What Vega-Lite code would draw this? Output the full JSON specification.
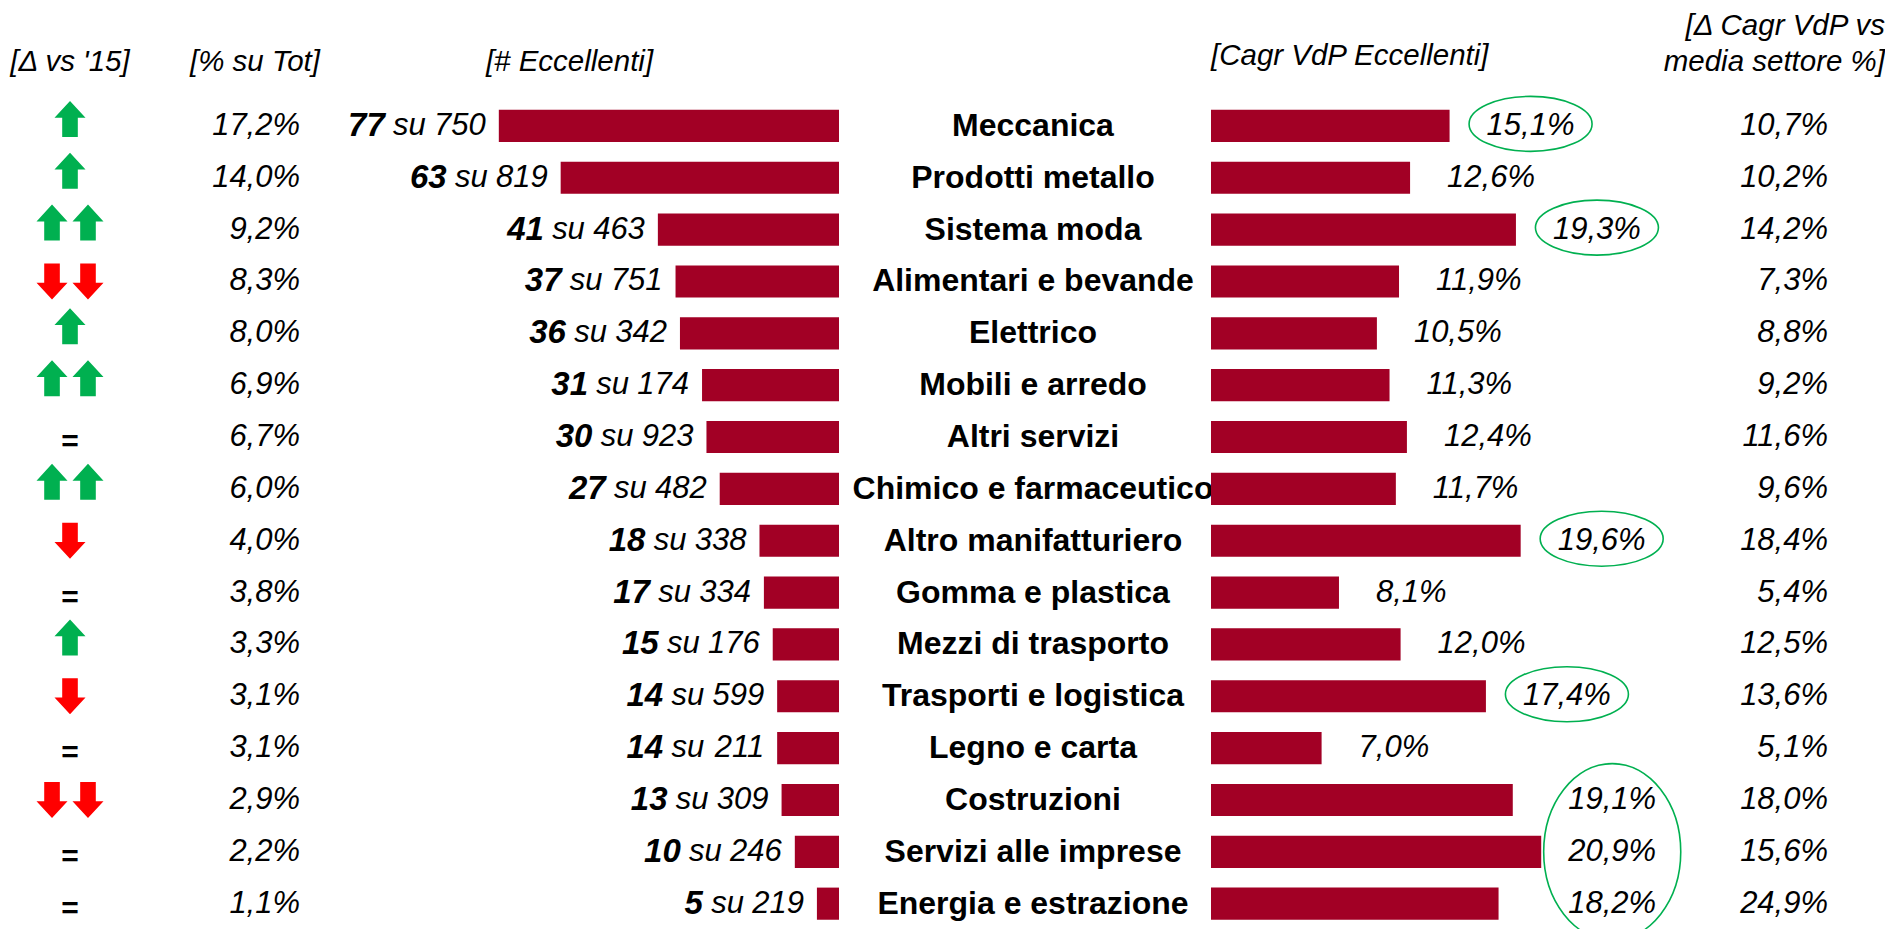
{
  "$schema": "https://vega.github.io/schema/vega-lite/v6.json",
  "padding": {"left": 0, "top": 11, "right": 0, "bottom": 0},
  "spacing": 0,
  "bounds": "flush",
  "background": "white",
  "config": {
    "view": {"stroke": null},
    "locale": {"number": {"decimal": ",", "thousands": ".", "grouping": [3], "currency": ["", "%"]}},
    "title": {"font": "Liberation Sans", "fontSize": 29.5, "fontStyle": "italic", "fontWeight": "normal", "color": "#000000", "baseline": "bottom", "offset": 22, "lineHeight": 36},
    "text": {"font": "Liberation Sans", "fontSize": 31, "color": "#000000"}
  },
  "data": {"values": [
    {"sector": "Meccanica", "trend": "up", "pct": 17.2, "n": 77, "tot": 750, "cagr": 15.1, "delta": 10.7, "hl": "circle"},
    {"sector": "Prodotti metallo", "trend": "up", "pct": 14.0, "n": 63, "tot": 819, "cagr": 12.6, "delta": 10.2, "hl": ""},
    {"sector": "Sistema moda", "trend": "up2", "pct": 9.2, "n": 41, "tot": 463, "cagr": 19.3, "delta": 14.2, "hl": "circle"},
    {"sector": "Alimentari e bevande", "trend": "down2", "pct": 8.3, "n": 37, "tot": 751, "cagr": 11.9, "delta": 7.3, "hl": ""},
    {"sector": "Elettrico", "trend": "up", "pct": 8.0, "n": 36, "tot": 342, "cagr": 10.5, "delta": 8.8, "hl": ""},
    {"sector": "Mobili e arredo", "trend": "up2", "pct": 6.9, "n": 31, "tot": 174, "cagr": 11.3, "delta": 9.2, "hl": ""},
    {"sector": "Altri servizi", "trend": "eq", "pct": 6.7, "n": 30, "tot": 923, "cagr": 12.4, "delta": 11.6, "hl": ""},
    {"sector": "Chimico e farmaceutico", "trend": "up2", "pct": 6.0, "n": 27, "tot": 482, "cagr": 11.7, "delta": 9.6, "hl": ""},
    {"sector": "Altro manifatturiero", "trend": "down", "pct": 4.0, "n": 18, "tot": 338, "cagr": 19.6, "delta": 18.4, "hl": "circle"},
    {"sector": "Gomma e plastica", "trend": "eq", "pct": 3.8, "n": 17, "tot": 334, "cagr": 8.1, "delta": 5.4, "hl": ""},
    {"sector": "Mezzi di trasporto", "trend": "up", "pct": 3.3, "n": 15, "tot": 176, "cagr": 12.0, "delta": 12.5, "hl": ""},
    {"sector": "Trasporti e logistica", "trend": "down", "pct": 3.1, "n": 14, "tot": 599, "cagr": 17.4, "delta": 13.6, "hl": "circle"},
    {"sector": "Legno e carta", "trend": "eq", "pct": 3.1, "n": 14, "tot": 211, "cagr": 7.0, "delta": 5.1, "hl": ""},
    {"sector": "Costruzioni", "trend": "down2", "pct": 2.9, "n": 13, "tot": 309, "cagr": 19.1, "delta": 18.0, "hl": "group"},
    {"sector": "Servizi alle imprese", "trend": "eq", "pct": 2.2, "n": 10, "tot": 246, "cagr": 20.9, "delta": 15.6, "hl": "group"},
    {"sector": "Energia e estrazione", "trend": "eq", "pct": 1.1, "n": 5, "tot": 219, "cagr": 18.2, "delta": 24.9, "hl": "group"}
  ]},
  "hconcat": [
    {
      "width": 140, "height": 829.6,
      "title": {"text": "[Δ vs '15]", "anchor": "middle"},
      "encoding": {"y": {"field": "sector", "type": "nominal", "axis": null, "scale": {"domain": ["Meccanica", "Prodotti metallo", "Sistema moda", "Alimentari e bevande", "Elettrico", "Mobili e arredo", "Altri servizi", "Chimico e farmaceutico", "Altro manifatturiero", "Gomma e plastica", "Mezzi di trasporto", "Trasporti e logistica", "Legno e carta", "Costruzioni", "Servizi alle imprese", "Energia e estrazione"], "paddingInner": 0.38, "paddingOuter": 0.19}}},
      "layer": [
        {
          "transform": [{"filter": "datum.trend != 'eq'"}],
          "mark": {"type": "point", "filled": true, "size": 4489, "opacity": 1, "strokeWidth": 0},
          "encoding": {
            "shape": {"field": "trend", "type": "nominal", "legend": null, "scale": {"domain": ["up", "up2", "down", "down2"], "range": [
              "M0,-0.747L0.463,-0.245L0.233,-0.245L0.233,0.327L-0.233,0.327L-0.233,-0.245L-0.463,-0.245Z",
              "M-0.537,-0.747L-0.074,-0.245L-0.304,-0.245L-0.304,0.327L-0.77,0.327L-0.77,-0.245L-1,-0.245ZM0.537,-0.747L1,-0.245L0.77,-0.245L0.77,0.327L0.304,0.327L0.304,-0.245L0.074,-0.245Z",
              "M0,0.537L0.463,0.035L0.233,0.035L0.233,-0.537L-0.233,-0.537L-0.233,0.035L-0.463,0.035Z",
              "M-0.537,0.537L-0.074,0.035L-0.304,0.035L-0.304,-0.537L-0.77,-0.537L-0.77,0.035L-1,0.035ZM0.537,0.537L1,0.035L0.77,0.035L0.77,-0.537L0.304,-0.537L0.304,0.035L0.074,0.035Z"
            ]}},
            "color": {"field": "trend", "type": "nominal", "legend": null, "scale": {"domain": ["up", "up2", "down", "down2"], "range": ["#00B050", "#00B050", "#FF0000", "#FF0000"]}}
          }
        },
        {
          "transform": [{"filter": "datum.trend == 'eq'"}],
          "mark": {"type": "text", "fontWeight": "bold", "fontSize": 30, "dy": 5},
          "encoding": {"text": {"value": "="}}
        }
      ]
    },
    {
      "width": 160, "height": 829.6,
      "title": {"text": "[% su Tot]", "anchor": "end", "dx": 20},
      "mark": {"type": "text", "align": "right", "fontStyle": "italic"},
      "encoding": {
        "y": {"field": "sector", "type": "nominal", "axis": null, "scale": {"domain": ["Meccanica", "Prodotti metallo", "Sistema moda", "Alimentari e bevande", "Elettrico", "Mobili e arredo", "Altri servizi", "Chimico e farmaceutico", "Altro manifatturiero", "Gomma e plastica", "Mezzi di trasporto", "Trasporti e logistica", "Legno e carta", "Costruzioni", "Servizi alle imprese", "Energia e estrazione"], "paddingInner": 0.38, "paddingOuter": 0.19}},
        "x": {"value": "width"},
        "text": {"field": "pct", "type": "quantitative", "format": "$.1f"}
      }
    },
    {
      "width": 539, "height": 829.6,
      "title": {"text": "[# Eccellenti]", "anchor": "middle"},
      "encoding": {
        "y": {"field": "sector", "type": "nominal", "axis": null, "scale": {"domain": ["Meccanica", "Prodotti metallo", "Sistema moda", "Alimentari e bevande", "Elettrico", "Mobili e arredo", "Altri servizi", "Chimico e farmaceutico", "Altro manifatturiero", "Gomma e plastica", "Mezzi di trasporto", "Trasporti e logistica", "Legno e carta", "Costruzioni", "Servizi alle imprese", "Energia e estrazione"], "paddingInner": 0.38, "paddingOuter": 0.19}},
        "x": {"field": "n", "type": "quantitative", "axis": null, "scale": {"domain": [0, 122], "reverse": true, "nice": false, "zero": true}}
      },
      "layer": [
        {"mark": {"type": "bar", "color": "#A20025"}},
        {"mark": {"type": "text", "align": "right", "fontStyle": "italic", "dx": -13}, "encoding": {"text": {"field": "tot", "type": "quantitative", "format": "d"}}},
        {"mark": {"type": "text", "align": "right", "fontStyle": "italic", "dx": -73}, "encoding": {"text": {"value": "su"}}},
        {"mark": {"type": "text", "align": "right", "fontStyle": "italic", "fontWeight": "bold", "fontSize": 33, "dx": -114}, "encoding": {"text": {"field": "n", "type": "quantitative", "format": "d"}}}
      ]
    },
    {
      "width": 372, "height": 829.6,
      "mark": {"type": "text", "fontWeight": "bold", "fontSize": 32, "dx": 8},
      "encoding": {
        "y": {"field": "sector", "type": "nominal", "axis": null, "scale": {"domain": ["Meccanica", "Prodotti metallo", "Sistema moda", "Alimentari e bevande", "Elettrico", "Mobili e arredo", "Altri servizi", "Chimico e farmaceutico", "Altro manifatturiero", "Gomma e plastica", "Mezzi di trasporto", "Trasporti e logistica", "Legno e carta", "Costruzioni", "Servizi alle imprese", "Energia e estrazione"], "paddingInner": 0.38, "paddingOuter": 0.19}},
        "text": {"field": "sector", "type": "nominal"}
      }
    },
    {
      "width": 389, "height": 829.6,
      "title": {"text": "[Cagr VdP Eccellenti]", "anchor": "start"},
      "encoding": {
        "y": {"field": "sector", "type": "nominal", "axis": null, "scale": {"domain": ["Meccanica", "Prodotti metallo", "Sistema moda", "Alimentari e bevande", "Elettrico", "Mobili e arredo", "Altri servizi", "Chimico e farmaceutico", "Altro manifatturiero", "Gomma e plastica", "Mezzi di trasporto", "Trasporti e logistica", "Legno e carta", "Costruzioni", "Servizi alle imprese", "Energia e estrazione"], "paddingInner": 0.38, "paddingOuter": 0.19}},
        "x": {"field": "cagr", "type": "quantitative", "axis": null, "scale": {"domain": [0, 24.62], "nice": false, "zero": true}}
      },
      "layer": [
        {"mark": {"type": "bar", "color": "#A20025"}},
        {
          "transform": [{"filter": "datum.hl != 'group'"}],
          "mark": {"type": "text", "align": "left", "fontStyle": "italic", "dx": 37},
          "encoding": {"text": {"field": "cagr", "type": "quantitative", "format": "$.1f"}}
        },
        {
          "transform": [{"filter": "datum.hl == 'group'"}, {"joinaggregate": [{"op": "max", "field": "cagr", "as": "gmax"}]}],
          "mark": {"type": "text", "align": "left", "fontStyle": "italic", "dx": 27},
          "encoding": {
            "x": {"field": "gmax", "type": "quantitative"},
            "text": {"field": "cagr", "type": "quantitative", "format": "$.1f"}
          }
        },
        {
          "transform": [{"filter": "datum.hl == 'circle'"}],
          "mark": {"type": "point", "filled": false, "opacity": 1, "color": "#00B050", "strokeWidth": 1.6, "size": 15129,
            "shape": "M2.317,-0.033C2.317,0.214 1.869,0.414 1.317,0.414C0.765,0.414 0.317,0.214 0.317,-0.033C0.317,-0.28 0.765,-0.48 1.317,-0.48C1.869,-0.48 2.317,-0.28 2.317,-0.033Z"}
        },
        {
          "transform": [{"filter": "datum.sector == 'Servizi alle imprese'"}],
          "mark": {"type": "point", "filled": false, "opacity": 1, "color": "#00B050", "strokeWidth": 1.6, "size": 31117,
            "shape": "M1.582,0C1.582,0.552 1.234,1 0.805,1C0.376,1 0.028,0.552 0.028,0C0.028,-0.552 0.376,-1 0.805,-1C1.234,-1 1.582,-0.552 1.582,0Z"}
        }
      ]
    },
    {
      "width": 282, "height": 829.6,
      "title": {"text": ["[Δ Cagr VdP vs", "media settore %]"], "anchor": "end", "dx": 3},
      "mark": {"type": "text", "align": "right", "fontStyle": "italic", "dx": -54},
      "encoding": {
        "y": {"field": "sector", "type": "nominal", "axis": null, "scale": {"domain": ["Meccanica", "Prodotti metallo", "Sistema moda", "Alimentari e bevande", "Elettrico", "Mobili e arredo", "Altri servizi", "Chimico e farmaceutico", "Altro manifatturiero", "Gomma e plastica", "Mezzi di trasporto", "Trasporti e logistica", "Legno e carta", "Costruzioni", "Servizi alle imprese", "Energia e estrazione"], "paddingInner": 0.38, "paddingOuter": 0.19}},
        "x": {"value": "width"},
        "text": {"field": "delta", "type": "quantitative", "format": "$.1f"}
      }
    }
  ]
}
